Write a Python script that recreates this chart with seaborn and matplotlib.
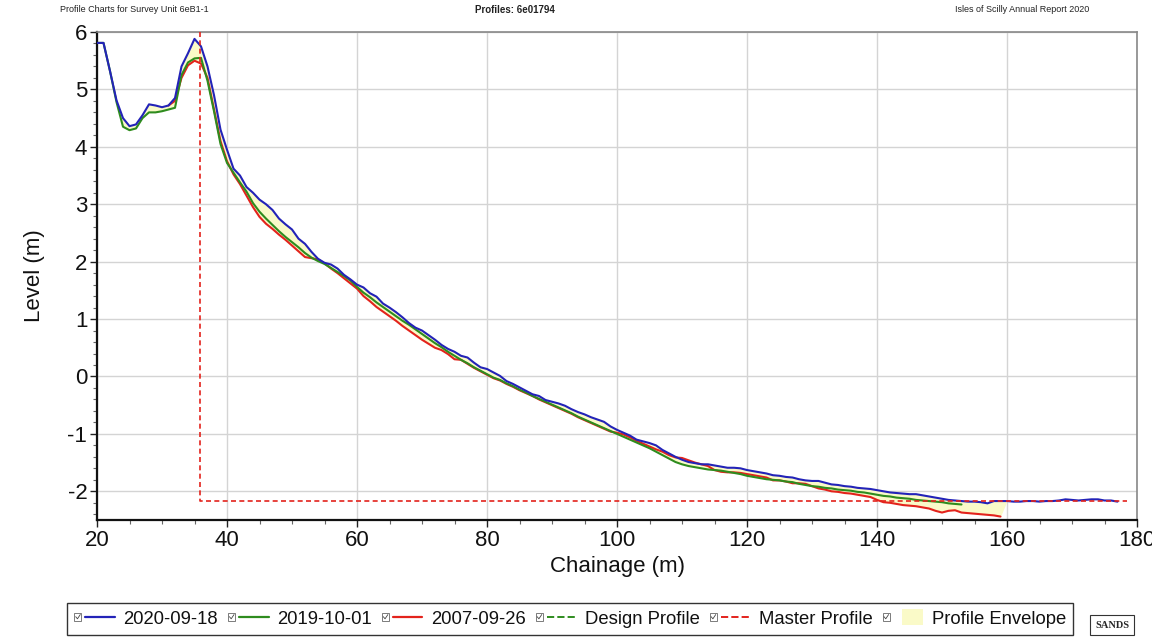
import numpy as np
import pandas as pd
import matplotlib
matplotlib.use("Agg")
import matplotlib.pyplot as plt
import seaborn as sns
from matplotlib.lines import Line2D
from matplotlib.patches import Rectangle
from matplotlib.legend_handler import HandlerBase

# ---------------- data ----------------
chainage = list(range(20, 178))  # 20 .. 177 m

level_2020 = [5.81, 5.81, 5.32, 4.81, 4.50, 4.36, 4.39, 4.55, 4.74, 4.72,
              4.69, 4.72, 4.85, 5.40, 5.63, 5.88, 5.75, 5.40, 4.90, 4.30,
              3.95, 3.62, 3.50, 3.30, 3.20, 3.08, 3.00, 2.90, 2.75, 2.65,
              2.56, 2.40, 2.31, 2.17, 2.05, 1.98, 1.95, 1.88, 1.77, 1.69,
              1.60, 1.55, 1.45, 1.39, 1.27, 1.20, 1.12, 1.03, 0.93, 0.85,
              0.80, 0.72, 0.64, 0.55, 0.48, 0.43, 0.36, 0.33, 0.24, 0.16,
              0.13, 0.07, 0.01, -0.08, -0.13, -0.19, -0.25, -0.31, -0.34, -0.41,
              -0.44, -0.47, -0.51, -0.57, -0.62, -0.66, -0.71, -0.75, -0.79, -0.87,
              -0.93, -0.98, -1.03, -1.10, -1.13, -1.16, -1.20, -1.28, -1.34, -1.40,
              -1.45, -1.49, -1.51, -1.53, -1.53, -1.55, -1.57, -1.59, -1.59, -1.60,
              -1.63, -1.65, -1.67, -1.69, -1.72, -1.73, -1.75, -1.76, -1.79, -1.81,
              -1.82, -1.82, -1.85, -1.88, -1.89, -1.91, -1.92, -1.94, -1.95, -1.96,
              -1.98, -2.00, -2.02, -2.03, -2.04, -2.05, -2.05, -2.07, -2.09, -2.11,
              -2.13, -2.15, -2.16, -2.17, -2.18, -2.18, -2.19, -2.21, -2.17, -2.17,
              -2.17, -2.18, -2.18, -2.17, -2.17, -2.18, -2.17, -2.17, -2.16, -2.14,
              -2.15, -2.16, -2.15, -2.14, -2.14, -2.16, -2.16, -2.18]

nan = np.nan
level_2019 = [5.81, 5.81, 5.32, 4.78, 4.35, 4.29, 4.32, 4.50, 4.60, 4.60,
              4.62, 4.65, 4.68, 5.25, 5.47, 5.54, 5.55, 5.15, 4.62, 4.05,
              3.72, 3.55, 3.38, 3.22, 3.02, 2.87, 2.75, 2.64, 2.53, 2.43,
              2.34, 2.25, 2.15, 2.07, 2.01, 1.96, 1.89, 1.82, 1.75, 1.67,
              1.56, 1.46, 1.38, 1.29, 1.21, 1.13, 1.05, 0.97, 0.90, 0.82,
              0.74, 0.66, 0.58, 0.51, 0.43, 0.36, 0.29, 0.23, 0.16, 0.10,
              0.04, -0.02, -0.06, -0.12, -0.17, -0.23, -0.28, -0.34, -0.39, -0.44,
              -0.49, -0.54, -0.59, -0.64, -0.70, -0.75, -0.80, -0.85, -0.90, -0.95,
              -1.00, -1.05, -1.10, -1.15, -1.20, -1.25, -1.31, -1.37, -1.43, -1.49,
              -1.53, -1.56, -1.58, -1.60, -1.62, -1.63, -1.64, -1.66, -1.68, -1.70,
              -1.73, -1.75, -1.77, -1.79, -1.80, -1.81, -1.83, -1.84, -1.87, -1.89,
              -1.91, -1.92, -1.94, -1.95, -1.97, -1.98, -1.99, -2.01, -2.02, -2.04,
              -2.06, -2.08, -2.09, -2.11, -2.12, -2.13, -2.15, -2.16, -2.17, -2.18,
              -2.19, -2.21, -2.22, -2.23] + [nan] * 24

level_2007 = [nan] * 11 + [
              4.72, 4.80, 5.20, 5.42, 5.50, 5.45, 5.20, 4.65, 4.10,
              3.75, 3.52, 3.35, 3.15, 2.95, 2.78, 2.66, 2.57, 2.47, 2.38,
              2.28, 2.18, 2.08, 2.06, 2.04, 1.97, 1.88, 1.80, 1.71, 1.62,
              1.53, 1.40, 1.31, 1.21, 1.13, 1.05, 0.97, 0.88, 0.80, 0.72,
              0.64, 0.57, 0.50, 0.46, 0.39, 0.30, 0.29, 0.22, 0.15, 0.09,
              0.03, -0.03, -0.07, -0.13, -0.18, -0.24, -0.29, -0.34, -0.40, -0.45,
              -0.50, -0.55, -0.60, -0.65, -0.71, -0.76, -0.81, -0.86, -0.91, -0.96,
              -0.98, -1.01, -1.06, -1.12, -1.17, -1.22, -1.27, -1.31, -1.37, -1.41,
              -1.42, -1.46, -1.50, -1.53, -1.56, -1.63, -1.66, -1.67, -1.67, -1.68,
              -1.70, -1.72, -1.74, -1.76, -1.81, -1.81, -1.83, -1.86, -1.86, -1.87,
              -1.91, -1.95, -1.97, -2.00, -2.01, -2.03, -2.04, -2.06, -2.08, -2.10,
              -2.15, -2.19, -2.20, -2.22, -2.24, -2.25, -2.26, -2.28, -2.30, -2.34,
              -2.37, -2.34, -2.33, -2.37, -2.38, -2.39, -2.40, -2.41, -2.42, -2.44] + [nan] * 18

master_x = [35.8, 35.8, 178.5]
master_y = [6.0, -2.17, -2.17]

survey_names = ["2007-09-26", "2019-10-01", "2020-09-18"]
survey_colors = {"2020-09-18": "#2323b8", "2019-10-01": "#2e8c1e", "2007-09-26": "#e3231c"}

x_ticks = [20, 40, 60, 80, 100, 120, 140, 160, 180]
y_ticks = [-2, -1, 0, 1, 2, 3, 4, 5, 6]

# ---------------- figure ----------------
sns.set_theme(style="white")
plt.rcParams["font.family"] = ["Liberation Sans", "DejaVu Sans"]
plt.rcParams["axes.unicode_minus"] = False

fig = plt.figure(figsize=(11.52, 6.37), dpi=100)
ax = fig.add_axes([97 / 1152, 1 - 520 / 637, (1137 - 97) / 1152, (520 - 32) / 637])

df = pd.DataFrame({
    "chainage": chainage * 3,
    "level": level_2007 + level_2019 + level_2020,
    "survey": [survey_names[0]] * len(chainage) + [survey_names[1]] * len(chainage)
              + [survey_names[2]] * len(chainage),
})

# profile envelope (min / max across surveys)
arr = np.array([level_2020, level_2019, level_2007], dtype=float)
upper = np.nanmax(arr, axis=0)
lower = np.nanmin(arr, axis=0)
ax.fill_between(chainage, lower, upper, color="#fafac8", linewidth=0, zorder=1)

sns.lineplot(data=df.dropna(), x="chainage", y="level", hue="survey",
             hue_order=survey_names, palette=survey_colors, estimator=None,
             sort=False, linewidth=1.5, legend=False, ax=ax, zorder=3)

ax.plot(master_x, master_y, color="#e3231c", linestyle=(0, (3, 2)), linewidth=1.2, zorder=4)

ax.set_xlim(20, 180)
ax.set_ylim(-2.5, 6)
ax.set_xticks(x_ticks)
ax.set_yticks(y_ticks)
ax.set_xticks(np.arange(20, 181, 5), minor=True)
ax.set_yticks(np.arange(-2.4, 6.01, 0.2), minor=True)
ax.tick_params(axis="both", which="major", labelsize=16, direction="out",
               length=5, width=1, colors="#222222", labelcolor="#111111", pad=2,
               bottom=True, left=True)
ax.tick_params(axis="both", which="minor", direction="out", length=3, width=0.8,
               colors="#666666", bottom=True, left=True)
ax.grid(True, which="major", color="#d4d4d4", linewidth=1)
ax.set_axisbelow(True)
for s in ["left", "bottom"]:
    ax.spines[s].set_color("#111111")
    ax.spines[s].set_linewidth(1.6)
for s in ["top", "right"]:
    ax.spines[s].set_color("#888888")
    ax.spines[s].set_linewidth(1.2)

ax.set_xlabel("Chainage (m)", fontsize=16, color="#111111", labelpad=4)
ax.set_ylabel("Level (m)", fontsize=16, color="#111111", labelpad=16)

# header
hdr_font = ["Liberation Sans Narrow", "Liberation Sans", "DejaVu Sans"]
fig.text(60 / 1152, 1 - 10 / 637, "Profile Charts for Survey Unit 6eB1-1", fontsize=6.5,
         family=hdr_font, va="center", ha="left", color="#222222")
fig.text(515 / 1152, 1 - 10 / 637, "Profiles: 6e01794", fontsize=7, fontweight="bold",
         family=hdr_font, va="center", ha="center", color="#222222")
fig.text(1089 / 1152, 1 - 10 / 637, "Isles of Scilly Annual Report 2020", fontsize=6.5,
         family=hdr_font, va="center", ha="right", color="#222222")


# ---------------- legend ----------------
class CheckHandler(HandlerBase):
    def create_artists(self, legend, orig_handle, xdescent, ydescent, width, height,
                       fontsize, trans):
        x0, y0 = -xdescent, -ydescent
        b = height * 0.55
        by = y0 + (height - b) / 2
        box = Rectangle((x0, by), b, b, fill=False, edgecolor="#666666", linewidth=0.6,
                        transform=trans)
        chk = Line2D([x0 + b * 0.2, x0 + b * 0.45, x0 + b * 0.85],
                     [by + b * 0.55, by + b * 0.25, by + b * 0.85],
                     color="#444444", linewidth=0.6, transform=trans)
        xs = x0 + b + height * 0.3
        if isinstance(orig_handle, Rectangle):
            sym = Rectangle((xs + (width - xs) * 0.3, y0 - height * 0.15), (width - xs) * 0.7,
                            height * 1.3, facecolor=orig_handle.get_facecolor(),
                            edgecolor="none", transform=trans)
        else:
            sym = Line2D([xs, x0 + width], [y0 + height / 2, y0 + height / 2],
                         color=orig_handle.get_color(), linestyle=orig_handle.get_linestyle(),
                         linewidth=orig_handle.get_linewidth(), transform=trans)
        return [box, chk, sym]


handles = [
    Line2D([], [], color=survey_colors["2020-09-18"], linewidth=1.6),
    Line2D([], [], color=survey_colors["2019-10-01"], linewidth=1.6),
    Line2D([], [], color=survey_colors["2007-09-26"], linewidth=1.6),
    Line2D([], [], color="#2e8c1e", linewidth=1.4, linestyle=(0, (2, 1.5))),
    Line2D([], [], color="#e3231c", linewidth=1.4, linestyle=(0, (2, 1.5))),
    Rectangle((0, 0), 1, 1, facecolor="#fafac8"),
]
labels = ["2020-09-18", "2019-10-01", "2007-09-26", "Design Profile", "Master Profile",
          "Profile Envelope"]
leg = fig.legend(handles, labels, handler_map={Line2D: CheckHandler(), Rectangle: CheckHandler()},
                 loc="center", bbox_to_anchor=(570 / 1152, 1 - 619 / 637), ncol=6,
                 fontsize=13.3, frameon=True, fancybox=False, edgecolor="#333333",
                 handlelength=2.2, handletextpad=0.45, columnspacing=0.55,
                 borderpad=0.4, framealpha=1)
leg.get_frame().set_linewidth(1.0)
for t in leg.get_texts():
    t.set_color("#111111")

fig.text(1112 / 1152, 1 - 625 / 637, "SANDS", fontsize=7.5, fontweight="bold",
         family=["Liberation Serif", "DejaVu Serif"], ha="center", va="center",
         bbox=dict(boxstyle="square,pad=0.5", facecolor="white", edgecolor="#333333",
                   linewidth=0.8))

fig.savefig("out.png", dpi=100)
